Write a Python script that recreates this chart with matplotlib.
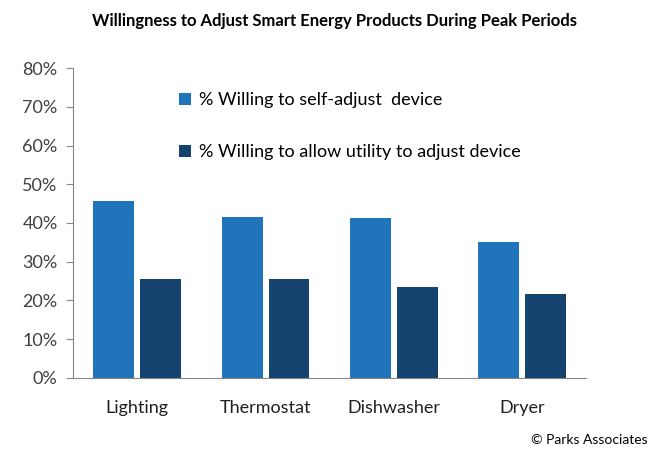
import matplotlib

matplotlib.use("Agg")
import matplotlib.pyplot as plt
import numpy as np

# 데이터
categories = ["Lighting", "Thermostat", "Dishwasher", "Dryer"]
self_adjust = [45.7, 41.5, 41.3, 35.1]
utility_adjust = [25.5, 25.5, 23.5, 21.7]
series_labels = ["% Willing to self-adjust  device", "% Willing to allow utility to adjust device"]
yticks = [0, 10, 20, 30, 40, 50, 60, 70, 80]

plt.rcParams["font.family"] = ["Lato", "DejaVu Sans"]

fig = plt.figure(figsize=(6.68, 4.66), dpi=100)
ax = fig.add_axes((0.109, 0.189, 0.768, 0.665))

x = np.arange(len(categories))
w = 0.318
ax.bar(x - 0.18, self_adjust, width=w, color="#1F74BA", label=series_labels[0])
ax.bar(x + 0.185, utility_adjust, width=w, color="#13436E", label=series_labels[1])

ax.set_xlim(-0.5, 3.5)
ax.set_ylim(0, 80)
ax.set_yticks(yticks)
ax.set_yticklabels([f"{v}%" for v in yticks], fontsize=13, color="#404040")
ax.set_xticks(x)
ax.set_xticklabels(categories, fontsize=13, color="#202020")
ax.tick_params(axis="x", length=0, pad=16)
ax.tick_params(axis="y", length=5, color="#868686", pad=6)

for s in ["top", "right"]:
    ax.spines[s].set_visible(False)
for s in ["left", "bottom"]:
    ax.spines[s].set_color("#868686")

ax.legend(
    loc="upper left",
    bbox_to_anchor=(0.175, 0.975),
    frameon=False,
    fontsize=13,
    handlelength=0.65,
    handleheight=0.65,
    handletextpad=0.45,
    labelspacing=2.0,
)

fig.text(0.5, 0.955, "Willingness to Adjust Smart Energy Products During Peak Periods",
         ha="center", va="center", fontsize=12, fontweight="bold")
fig.text(0.97, 0.055, "\u00a9 Parks Associates", ha="right", va="center", fontsize=10)

fig.savefig("out.png", dpi=100)
